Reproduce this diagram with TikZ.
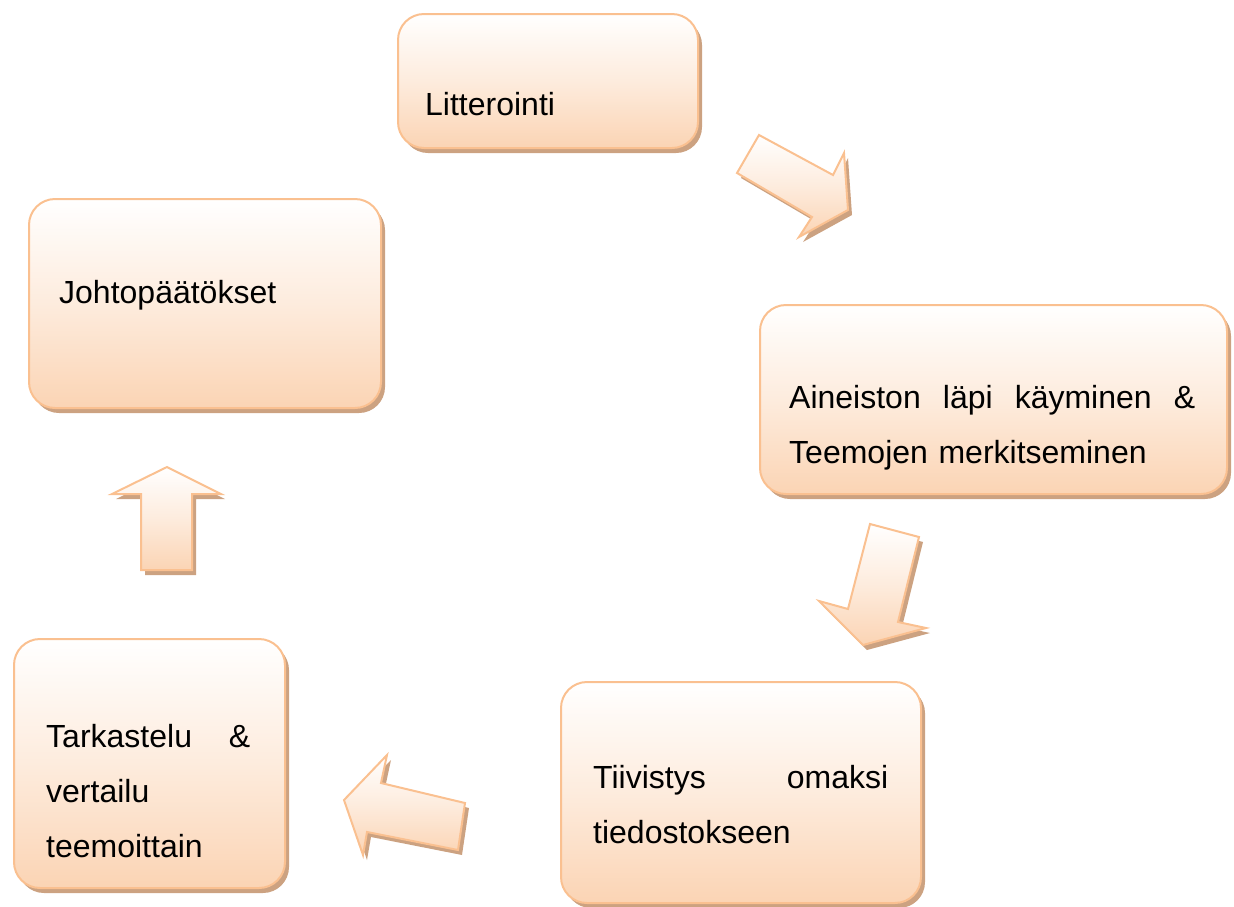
\documentclass[tikz,border=0pt]{standalone}
\usepackage{fontspec}
\setmainfont{Liberation Sans}
\usetikzlibrary{shadows}
\definecolor{peach}{HTML}{FBD4B4}
\definecolor{bord}{HTML}{FAC090}
\definecolor{shad}{HTML}{CCA281}
\newcommand{\jline}[2]{\leavevmode\hbox to #1{#2}}
\begin{document}
\begin{tikzpicture}[x=1pt,y=-1pt,
  sh/.style={drop shadow={shadow xshift=4pt,shadow yshift=-5pt,fill=shad,opacity=1}},
  boxnode/.style={draw=bord,line width=2pt,rounded corners=26pt,top color=white,bottom color=peach,middle color=peach!45!white,sh,inner sep=0pt,anchor=north west},
  blockarrow/.style={draw=bord,line width=2pt,line join=miter,top color=white,bottom color=peach,middle color=peach!45!white,sh},
  lbl/.style={font=\fontsize{32}{55}\selectfont,inner sep=0pt,anchor=base west,align=left}
]
\useasboundingbox (0,0) rectangle (1234,906);
% boxes
\node[boxnode,minimum width=300pt,minimum height=134pt] (lit) at (397,13) {};
\node[boxnode,minimum width=352pt,minimum height=209pt] (joh) at (28,198) {};
\node[boxnode,minimum width=467pt,minimum height=189pt] (ain) at (759,304) {};
\node[boxnode,minimum width=360pt,minimum height=221pt] (tii) at (560,681) {};
\node[boxnode,minimum width=271pt,minimum height=249pt] (tar) at (13,638) {};
% texts
\node[lbl] (lit-t) at (425,115) {Litterointi};
\node[lbl] (joh-t) at (59,303) {Johtopäätökset};
\node[lbl,text width=406pt] (ain-t) at (789,408) {\jline{406pt}{Aineiston\hfill läpi\hfill käyminen\hfill\&}\\Teemojen merkitseminen};
\node[lbl,text width=295pt] (tii-t) at (593,788) {\jline{295pt}{Tiivistys\hfill omaksi}\\tiedostokseen};
\node[lbl,text width=204pt] (tar-t) at (46,747) {\jline{204pt}{Tarkastelu\hfill\&}\\vertailu\\teemoittain};
% block arrows
\draw[blockarrow] (759,135) -- (833,175) -- (844,153) -- (848,210) -- (799,237) -- (812,217) -- (737,173) -- cycle;
\draw[blockarrow] (870,524) -- (919,537) -- (898,622) -- (926,628) -- (863,645) -- (819,601) -- (848,609) -- cycle;
\draw[blockarrow] (465,803) -- (381,783) -- (387,755) -- (344,800) -- (363,855) -- (367,832) -- (458,850) -- cycle;
\draw[blockarrow] (167,467) -- (221,494) -- (192,494) -- (192,570) -- (141,570) -- (141,494) -- (112,494) -- cycle;
\end{tikzpicture}
\end{document}
